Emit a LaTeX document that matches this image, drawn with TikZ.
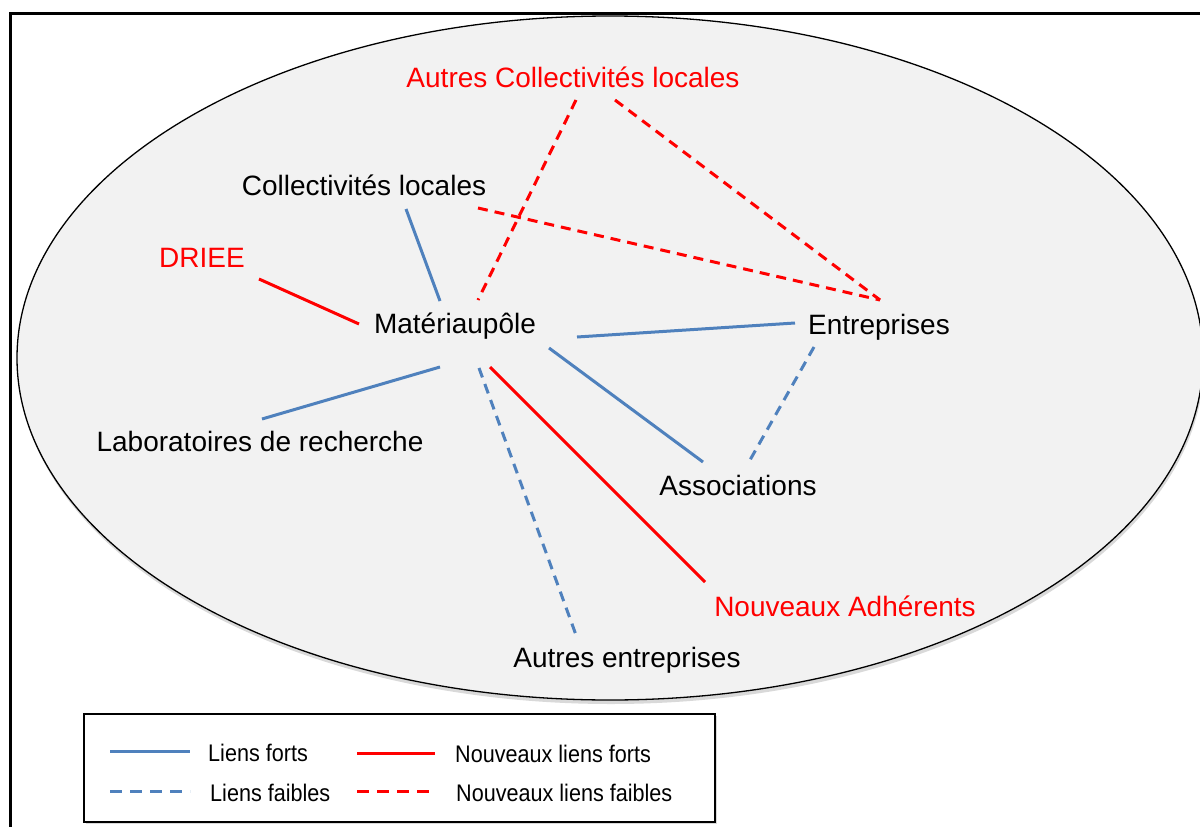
\documentclass[tikz,border=0pt]{standalone}
\usepackage{fontspec}
\setmainfont{Liberation Sans}
\usetikzlibrary{calc}
\definecolor{lblue}{HTML}{4F81BD}
\definecolor{lred}{HTML}{FF0000}
\definecolor{bgfill}{HTML}{F2F2F2}
\begin{document}
\begin{tikzpicture}[x=1pt,y=-1pt,
  lab/.style={anchor=base,inner sep=0pt,font=\fontsize{28}{32}\selectfont},
  labred/.style={lab,text=lred},
  legtext/.style={anchor=base west,inner sep=0pt,font=\fontsize{24}{28}\selectfont},
  strongold/.style={draw=lblue,line width=3pt},
  weakold/.style={draw=lblue,line width=3pt,dash pattern=on 10pt off 7pt},
  strongnew/.style={draw=lred,line width=3pt},
  weaknew/.style={draw=lred,line width=3pt,dash pattern=on 10pt off 7pt}]
\useasboundingbox (0,0) rectangle (1200,827);
\clip (0,0) rectangle (1200,827);
% outer frame
\draw[line width=3pt] (10,13) rectangle (1220,850);
% ellipse with shadow
\fill[black!25,opacity=0.6] (611,362) ellipse [x radius=593, y radius=342];
\draw[fill=bgfill,line width=1.3pt] (610,358) ellipse [x radius=593, y radius=342];
% nodes
\node[labred] (acl) at (573,87) {Autres Collectivités locales};
\node[lab] (cl) at (364,195) {Collectivités locales};
\node[labred] (driee) at (202,267) {DRIEE};
\node[lab] (mat) at (455,333) {Matériaupôle};
\node[lab] (ent) at (879,334) {Entreprises};
\node[lab] (labo) at (260,451) {Laboratoires de recherche};
\node[lab] (asso) at (738,495) {Associations};
\node[labred] (na) at (845,616) {Nouveaux Adhérents};
\node[lab] (ae) at (627,667) {Autres entreprises};
% connector end points
\coordinate (cl-m) at (406,209); \coordinate (m-cl) at (440,301);
\coordinate (dr-m) at (259,279); \coordinate (m-dr) at (359,324);
\coordinate (m-en) at (577,337); \coordinate (en-m) at (795,323);
\coordinate (m-la) at (440,367); \coordinate (la-m) at (262,419);
\coordinate (m-as) at (549,348); \coordinate (as-m) at (703,462);
\coordinate (m-na) at (490,367); \coordinate (na-m) at (705,582);
\coordinate (m-ae) at (479,368); \coordinate (ae-m) at (576,635);
\coordinate (en-as) at (814,347); \coordinate (as-en) at (750,460);
\coordinate (acl-m) at (576,100); \coordinate (m-acl) at (478,300);
\coordinate (acl-en) at (615,100); \coordinate (en-acl) at (880,300);
\coordinate (cl-en) at (478,208); \coordinate (en-cl) at (880,300);
% connectors
\draw[strongold] (cl-m) -- (m-cl);
\draw[strongnew] (dr-m) -- (m-dr);
\draw[strongold] (m-en) -- (en-m);
\draw[strongold] (m-la) -- (la-m);
\draw[strongold] (m-as) -- (as-m);
\draw[strongnew] (m-na) -- (na-m);
\draw[weakold] (m-ae) -- (ae-m);
\draw[weakold] (en-as) -- (as-en);
\draw[weaknew] (acl-m) -- (m-acl);
\draw[weaknew] (acl-en) -- (en-acl);
\draw[weaknew] (cl-en) -- (en-cl);
% legend
\fill[black!25,opacity=0.6] (86,716) rectangle (717,824);
\draw[fill=white,line width=1.5pt] (84,714) rectangle (715,822) node[coordinate] (legbox) {};
\coordinate (l1a) at (110,751); \coordinate (l1b) at (190,751);
\coordinate (l2a) at (110,791); \coordinate (l2b) at (190,791);
\coordinate (l3a) at (357,753); \coordinate (l3b) at (435,753);
\coordinate (l4a) at (357,791); \coordinate (l4b) at (435,791);
\draw[strongold] (l1a) -- (l1b);
\draw[weakold,dash pattern=on 12pt off 8pt] (l2a) -- (l2b);
\draw[strongnew] (l3a) -- (l3b);
\draw[weaknew,dash pattern=on 12pt off 8pt] (l4a) -- (l4b);
\node[legtext] (t1) at (208,761) {\scalebox{0.9}[1]{Liens forts}};
\node[legtext] (t2) at (210,801) {\scalebox{0.9}[1]{Liens faibles}};
\node[legtext] (t3) at (455,762) {\scalebox{0.9}[1]{Nouveaux liens forts}};
\node[legtext] (t4) at (456,801) {\scalebox{0.9}[1]{Nouveaux liens faibles}};
\end{tikzpicture}
\end{document}
